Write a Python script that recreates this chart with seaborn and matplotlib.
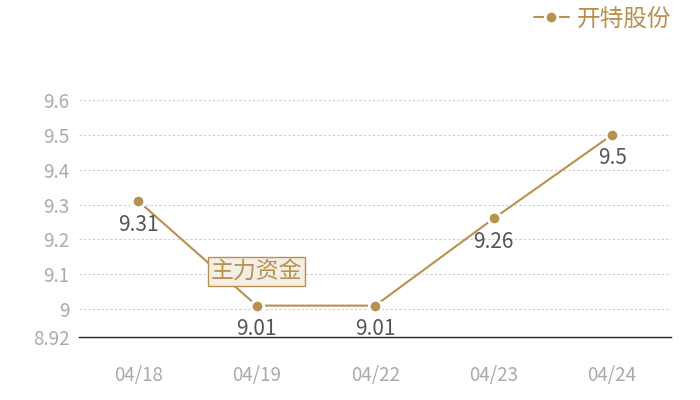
import matplotlib
matplotlib.use("Agg")
from matplotlib import pyplot as plt
import pandas as pd
import seaborn as sns

dates = ["04/18", "04/19", "04/22", "04/23", "04/24"]
prices = [9.31, 9.01, 9.01, 9.26, 9.5]
yticks = [8.92, 9.0, 9.1, 9.2, 9.3, 9.4, 9.5, 9.6]
ytick_labels = ["8.92", "9", "9.1", "9.2", "9.3", "9.4", "9.5", "9.6"]
series_name = "开特股份"
badge_text = "主力资金"

gold = "#b8914f"
df = pd.DataFrame({"date": dates, "price": prices})

sns.set_theme(style="white")
plt.rcParams["font.family"] = ["Noto Sans CJK SC", "DejaVu Sans"]

f = plt.figure(figsize=(7, 4), dpi=100)
ax = f.add_axes([0.113, 0.1575, 0.846, 0.5925])

sns.lineplot(data=df, x="date", y="price", ax=ax, color=gold, linewidth=1.5,
             marker="o", markersize=9, markeredgecolor="white",
             markeredgewidth=2, label=series_name, sort=False)

ax.set_xlim(-0.5, len(dates) - 0.5)
ax.set_ylim(8.92, 9.6)
ax.set_yticks(yticks)
ax.set_yticklabels(ytick_labels)
ax.tick_params(axis="y", labelsize=13.5, colors="#aaaaaa", length=0, pad=7)
ax.tick_params(axis="x", labelsize=13.5, colors="#aaaaaa", length=0, pad=20)
ax.set_xlabel("")
ax.set_ylabel("")
for t in yticks[1:]:
    ax.axhline(t, color="#cccccc", linestyle=(0, (2, 2)), linewidth=0.8, zorder=0)
for side in ["top", "right", "left"]:
    ax.spines[side].set_visible(False)
ax.spines["bottom"].set_color("#222222")
ax.spines["bottom"].set_linewidth(1)

for i, v in enumerate(prices):
    ax.annotate(f"{v:g}", (i, v), xytext=(0, -9), textcoords="offset points",
                ha="center", va="top", fontsize=15, color="#555555")

ax.text(1, 9.108, badge_text, ha="center", va="center", fontsize=16.5, color=gold,
        bbox=dict(boxstyle="square,pad=0.12", facecolor="#f3eee6",
                  edgecolor=gold, linewidth=1), zorder=5)

leg = ax.legend(loc="upper right", bbox_to_anchor=(1.035, 1.48), frameon=False,
                fontsize=17, handlelength=1.5, handletextpad=0.3)
for txt in leg.get_texts():
    txt.set_color(gold)

f.savefig("out.png", dpi=100)
